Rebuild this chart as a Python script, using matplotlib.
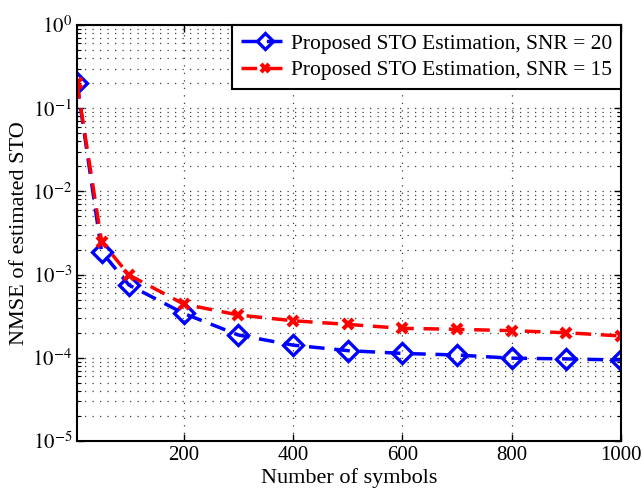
import matplotlib.pyplot as plt
import numpy as np

# NMSE of the STO estimate versus the number of symbols
symbols = [5, 50, 100, 200, 300, 400, 500, 600, 700, 800, 900, 1000]
nmse_snr20 = [0.20, 1.88e-3, 7.5e-4, 3.42e-4, 1.88e-4, 1.42e-4, 1.22e-4,
              1.13e-4, 1.08e-4, 9.9e-5, 9.7e-5, 9.4e-5]
nmse_snr15 = [0.20, 2.49e-3, 9.9e-4, 4.43e-4, 3.27e-4, 2.79e-4, 2.52e-4,
              2.26e-4, 2.20e-4, 2.12e-4, 2.0e-4, 1.83e-4]
xticks = [200, 400, 600, 800, 1000]

plt.rcParams['font.family'] = ['Liberation Serif', 'DejaVu Serif']
plt.rcParams['mathtext.fontset'] = 'stix'

fig = plt.figure(figsize=(6.44, 5.0), dpi=100)
ax = fig.add_axes([77 / 644, 1 - 441 / 500, (621 - 77) / 644, (441 - 25) / 500])

ax.semilogy(symbols, nmse_snr20, color='blue', linestyle='--', linewidth=2.5,
            dashes=(4.5, 2.8), marker='D', markersize=10, markerfacecolor='none',
            markeredgewidth=2.4, markeredgecolor='blue',
            label='Proposed STO Estimation, SNR = 20')
ax.semilogy(symbols, nmse_snr15, color='red', linestyle='--', linewidth=2.5,
            dashes=(4.5, 2.8), marker='x', markersize=7,
            markeredgewidth=3, markeredgecolor='red',
            label='Proposed STO Estimation, SNR = 15')

ax.set_xlim(5, 1000)
ax.set_ylim(1e-5, 1)
ax.set_xticks(xticks)
ax.set_xticklabels([str(t) for t in xticks])
ax.set_yticks([10.0 ** k for k in range(-5, 1)])
ax.set_yticklabels([r'$10^{%d}$' % k for k in range(-5, 1)])

grid_style = dict(linestyle=(0, (1, 5)), color='0.25', linewidth=0.9)
ax.grid(True, which='major', axis='both', **grid_style)
ax.grid(True, which='minor', axis='y', **grid_style)

ax.tick_params(which='both', direction='in', top=True, right=True, labelsize=15)
ax.tick_params(which='major', length=5, width=1)
ax.tick_params(which='minor', length=3, width=0.8)
for s in ax.spines.values():
    s.set_linewidth(1.5)

ax.set_xlabel('Number of symbols', fontsize=16, labelpad=2)
ax.set_ylabel('NMSE of estimated STO', fontsize=16, labelpad=2)

leg = ax.legend(loc='upper right', fontsize=15.5, frameon=True, fancybox=False,
                borderaxespad=0, handlelength=2.3, handletextpad=0.05,
                borderpad=0.4, labelspacing=0.3, markerscale=0.85)
leg.get_frame().set_edgecolor('black')
leg.get_frame().set_linewidth(1.5)
leg.get_frame().set_alpha(1)

fig.savefig('out.png', dpi=100)
